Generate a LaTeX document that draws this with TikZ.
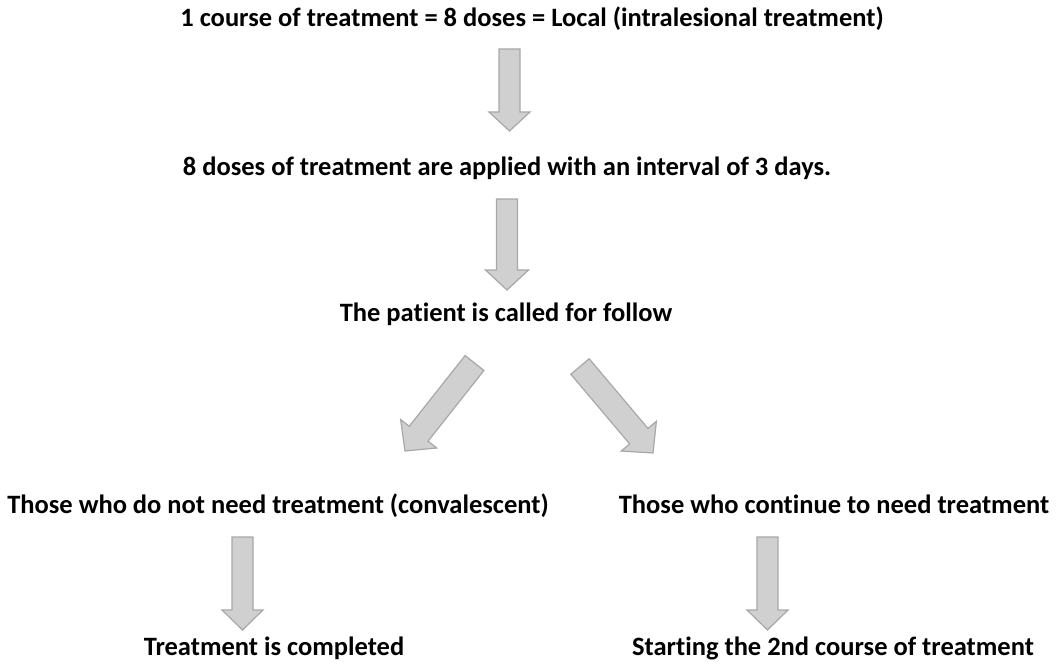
\documentclass[tikz,border=0pt]{standalone}
\usepackage{fontspec}
\setmainfont{Carlito}[Ligatures=NoCommon]
\usetikzlibrary{calc}
\tikzset{
  lbl/.style={font=\bfseries\fontsize{26.5}{30}\selectfont, anchor=base, inner sep=0pt},
  blockarr/.style={draw=arrowedge, fill=arrowfill, line width=1.2pt, line join=miter},
}
\definecolor{arrowfill}{RGB}{208,208,208}
\definecolor{arrowedge}{RGB}{168,168,168}
% #1 back centre, #2 tip, #3 half shaft width, #4 half head width, #5 head length (pt)
\newcommand\blockarrowdraw[5]{%
  \coordinate (#1-h) at ($(#2)!#5pt!(#1)$);
  \draw[blockarr] ($(#1)!#3pt!90:(#2)$) -- ($(#1-h)!#3pt!90:(#2)$) -- ($(#1-h)!#4pt!90:(#2)$)
     -- (#2) -- ($(#1-h)!#4pt!-90:(#2)$) -- ($(#1-h)!#3pt!-90:(#2)$) -- ($(#1)!#3pt!-90:(#2)$) -- cycle;}
\begin{document}
\begin{tikzpicture}[x=1pt,y=-1pt]
\useasboundingbox[fill=white] (0,0) rectangle (1056,666);
\node[lbl] (t1) at (532,27) {1 course of treatment = 8 doses = Local (intralesional treatment)};
\node[lbl] (t2) at (507,175) {8 doses of treatment are applied with an interval of 3 days.};
\node[lbl] (t3) at (506,321) {The patient is called for follow};
\node[lbl] (t4l) at (278,513) {Those who do not need treatment (convalescent)};
\node[lbl] (t4r) at (834,513) {Those who continue to need treatment};
\node[lbl] (t5l) at (274,655) {Treatment is completed};
\node[lbl] (t5r) at (833,655) {Starting the 2nd course of treatment};
% arrow anchor coordinates
\coordinate (a1s) at (509.5,49);  \coordinate (a1e) at (509.5,131);
\coordinate (a2s) at (507,199);   \coordinate (a2e) at (507,290);
\coordinate (a3s) at (474.5,363); \coordinate (a3e) at (405,451);
\coordinate (a4s) at (580,366.5); \coordinate (a4e) at (653,453);
\coordinate (a5s) at (242.5,537); \coordinate (a5e) at (242.5,630);
\coordinate (a6s) at (767.5,537); \coordinate (a6e) at (767.5,630);
\blockarrowdraw{a1s}{a1e}{10.5}{20.5}{19}
\blockarrowdraw{a2s}{a2e}{10.5}{21.5}{20}
\blockarrowdraw{a3s}{a3e}{12}{23}{22}
\blockarrowdraw{a4s}{a4e}{12}{23}{22}
\blockarrowdraw{a5s}{a5e}{10.5}{20.5}{20}
\blockarrowdraw{a6s}{a6e}{10.5}{20.5}{20}
\end{tikzpicture}
\end{document}
